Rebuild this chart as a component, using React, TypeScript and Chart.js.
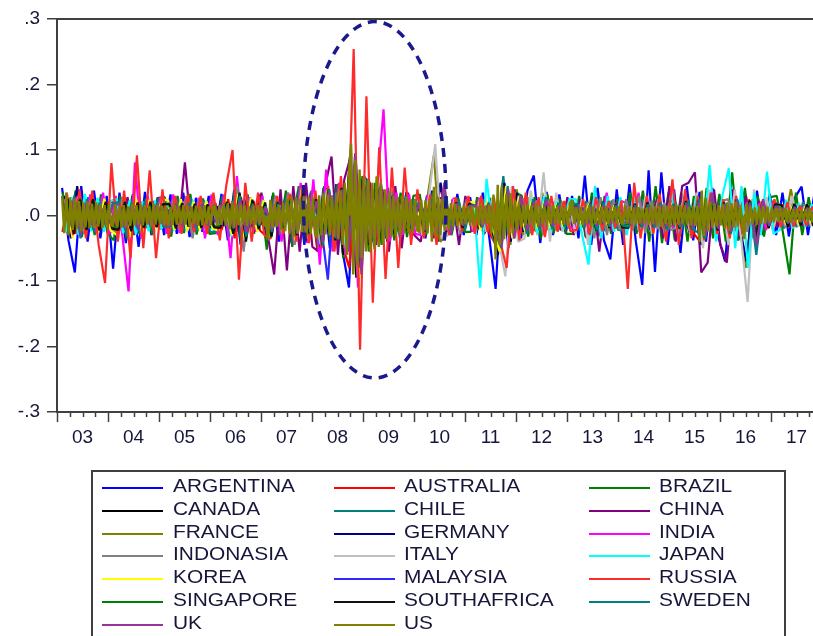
import React, { useEffect, useRef } from "react";
import { Chart, registerables } from "chart.js";

Chart.register(...registerables);

// ---------- labels / categories ----------
const COUNTRIES = [
  "ARGENTINA", "AUSTRALIA", "BRAZIL", "CANADA", "CHILE", "CHINA", "FRANCE",
  "GERMANY", "INDIA", "INDONASIA", "ITALY", "JAPAN", "KOREA", "MALAYSIA",
  "RUSSIA", "SINGAPORE", "SOUTHAFRICA", "SWEDEN", "UK", "US",
];
const YEAR_LABELS = ["03", "04", "05", "06", "07", "08", "09", "10", "11", "12", "13", "14", "15", "16", "17"];
const FIRST_YEAR = 2003;
const LAST_YEAR = 2018;
const FIRST_SAMPLE = 2003.1;      // first observation date (fractional year)
const OTHER_RATE = 8;             // observations per year kept for each country
const US_RATE = 24;               // observations per year kept for the US
const VALUE_UNIT = 0.001;         // values below are returns in thousandths
const Y_MIN = -0.3;
const Y_MAX = 0.3;
const Y_STEP = 0.1;

// ---------- series (returns, in thousandths; one row per year) ----------
const ARGENTINA = [
  42, -38, -87, 45, -40, 38, -35, 30,
  -81, 35, -42, 30, -48, 36, -30, 28,
  -30, 32, -28, 35, -33, 27, -25, 30,
  -28, 33, -38, 40, -45, 30, -26, 32,
  -35, 30, -40, 28, -42, 38, -45, 35,
  -45, 42, -50, 48, -55, -110, 95, -60,
  55, -48, 50, -40, 38, -35, 36, -30,
  32, -35, 38, -40, 30, -28, 33, -30,
  28, -30, 35, -33, -112, 45, -50, 40,
  -35, 38, 61, -42, 36, -30, 32, -28,
  30, -35, 61, -45, 42, -38, -67, 40,
  -45, 48, -40, -106, 69, -86, 66, -45,
  40, -57, 45, -38, 36, -40, 42, -35,
  -70, 40, -38, 35, -42, 38, -30, 33,
  -30, 35, -32, 28, 44, -30, 33, -28,
];
const AUSTRALIA = [
  -25, 22, -28, 24, -20, 23, -22, 19,
  21, -18, 22, -24, 19, -20, 21, -17,
  18, -21, 20, -18, 22, -19, 17, -18,
  19, -22, 25, -35, 28, -21, 22, -23,
  -32, 25, -27, 29, -38, 33, -30, 27,
  -55, 40, -35, 38, -48, -80, 55, -50,
  42, -38, 33, -30, 28, -26, 24, -27,
  24, -26, 28, -32, 23, -21, 20, -19,
  21, -23, 25, -27, -45, 35, -28, 24,
  -21, 20, -23, 22, -19, 18, -17, 19,
  17, -19, 20, -28, 21, -18, 17, -19,
  -18, 17, -19, 16, -17, 18, -20, 19,
  20, -23, 25, -27, -40, 28, -24, 22,
  -28, 24, -22, 26, -35, 22, -19, 20,
  -16, 17, -18, 16, -17, 15, -16, 14,
];
const BRAZIL = [
  35, -30, 38, -33, 28, -30, 32, -27,
  -38, 30, -35, 33, -28, 25, -30, 27,
  28, -32, 30, -27, 33, -29, 26, -28,
  -27, 30, -33, 40, -45, 32, -28, 30,
  -52, 35, -30, 38, -48, 45, -40, 38,
  -50, 45, -42, 48, -65, 78, -80, 60,
  -55, 50, -45, 42, -38, 35, -33, 30,
  32, -30, 35, -38, 28, -30, 27, -25,
  -25, 28, -30, 27, -60, 50, -40, 35,
  30, -32, 28, -35, 33, -27, 25, -28,
  -28, 30, -33, 35, -32, 30, -28, 25,
  -30, 35, -28, 38, -40, 45, -42, 35,
  -38, 35, -40, 30, -45, 42, -35, 33,
  -40, 66, -38, 42, -35, 30, -32, 28,
  30, -28, -90, 35, -30, 28, -25, 27,
];
const CANADA = [
  22, -25, 20, -18, 19, -21, 18, -17,
  -18, 17, -20, 19, -16, 18, -17, 16,
  16, -18, 17, -19, 18, -16, 17, -18,
  -17, 19, -21, 24, -26, 18, -19, 17,
  -32, 21, -20, 22, -27, 29, -28, 25,
  -33, 30, -28, 32, -60, 90, -95, 55,
  -45, 40, -36, 32, -28, 25, -23, 21,
  -22, 20, -24, 26, -19, 18, -17, 16,
  18, -17, 19, -20, -40, 32, -25, 21,
  -17, 16, -18, 15, -16, 17, -15, 14,
  15, -14, 16, -17, 14, -15, 16, -13,
  -14, 15, -13, 16, -14, 15, -20, 18,
  -21, 19, -18, 20, -26, 24, -19, 17,
  -24, 22, -19, 18, -21, 16, -15, 14,
  12, -13, 14, -12, 13, -11, 12, -13,
];
const CHILE = [
  30, -27, 32, -25, 28, -24, 27, -23,
  -26, 25, -32, 28, -24, 26, -23, 22,
  24, -26, 25, -23, 27, -24, 23, -25,
  -25, 27, -30, 36, -38, 28, -25, 24,
  -33, 25, -23, 27, -31, 35, -29, 26,
  -37, 32, -30, 34, -45, 60, -55, 40,
  -34, 36, -30, 28, -25, 23, -21, 25,
  -27, 30, 28, -29, 25, -23, 24, -22,
  19, -21, 24, -22, -36, 60, -32, 28,
  -26, 24, -23, 25, -22, 21, -23, 20,
  21, -23, 22, -27, 25, -24, 23, -22,
  -23, 22, -21, 24, -22, 21, -23, 22,
  21, -22, 24, -23, -28, 25, -22, 21,
  -25, 24, -22, 23, -27, 21, -20, 22,
  18, -20, 19, -18, 20, -17, 18, -19,
];
const CHINA = [
  -20, 22, -18, 25, -16, 20, -22, 18,
  25, -22, 28, -30, 20, -18, 22, -20,
  -18, 20, -22, 81, -25, 20, -18, 22,
  -20, 25, -28, 30, -32, 28, -25, 35,
  -30, -90, 40, -84, 45, -55, 50, -48,
  -55, 45, 90, -60, 55, 90, -65, 60,
  50, -45, 40, -55, 45, -50, 35, -30,
  -40, 30, -35, 28, -30, 25, -45, 30,
  -25, 22, -28, 20, -30, 25, -28, 22,
  -22, 25, -20, 30, -18, 20, -22, 28,
  -30, 25, -35, 28, -55, 30, -25, 22,
  -25, 22, -20, 18, -22, 25, -35, 45,
  -40, 45, 50, 66, -87, -72, 40, -45,
  -72, 40, -35, 30, -25, 22, -20, 18,
  -18, 15, -17, 14, -16, 13, -15, 12,
];
const FRANCE = [
  -25, 28, -22, 20, -18, 22, -17, 15,
  18, -19, 17, -16, 18, -15, 16, -17,
  -15, 16, -17, 14, -16, 15, -14, 16,
  -15, 17, -20, 22, -24, 16, -15, 17,
  -25, 18, -16, 20, -28, 30, -26, 22,
  -45, 40, -35, 38, -50, 100, -90, 60,
  -45, 50, -38, 35, -28, 30, -25, 22,
  -30, 28, 92, -40, -30, 25, -22, 20,
  18, -20, 22, -25, -55, 50, -45, 40,
  -30, 28, -25, 35, -22, 20, -18, 17,
  15, -17, 16, -20, 18, -15, 14, -13,
  -15, 14, -16, 15, -17, 18, -20, 15,
  -18, 20, -22, 25, -35, 28, -22, 20,
  -30, 25, -22, -80, 25, -20, 18, 15,
  13, -12, 40, -11, 10, -12, 9, -10,
];
const GERMANY = [
  30, -35, 45, -28, 25, -22, 20, -18,
  -22, 20, -19, 18, -21, 17, -16, 18,
  16, -17, 15, -18, 16, -15, 17, -14,
  14, -16, 18, -25, 22, -15, 14, -13,
  -28, 20, -18, 22, -25, 24, -22, 20,
  -48, 42, -30, 35, -45, 85, -75, 55,
  -45, 48, -35, 30, -25, 28, -22, 20,
  -22, 25, -20, 50, -25, 18, -16, 15,
  18, -20, 22, -18, -60, 50, -40, 35,
  -25, 22, -20, 28, -18, 17, -15, 14,
  13, -15, 14, -18, 16, -13, 12, -11,
  -14, 13, -15, 14, -16, 17, -18, 15,
  -20, 22, -25, 24, -45, 30, -22, 20,
  -28, 25, -22, -70, 22, -18, 16, 14,
  12, -11, 13, -10, 11, -12, 10, -9,
];
const INDIA = [
  25, -27, 30, -25, 32, -27, 35, -29,
  30, -28, -116, 81, -35, 30, -25, 28,
  -28, 32, -27, 29, -32, 27, -35, 32,
  -30, 32, -65, 60, -35, 28, -25, 30,
  -35, 30, -40, 35, -45, 50, -42, 55,
  -75, 70, -55, 50, -60, 65, -110, 60,
  -50, 45, 162, -40, 35, -30, 32, -28,
  -30, 33, -27, 25, -23, 27, -25, 22,
  -25, 27, -23, 22, -30, 25, -23, 21,
  22, -20, 23, -21, 19, -18, 20, -17,
  -20, 19, -23, 25, -30, 35, -24, 22,
  20, -19, 35, -18, 17, -19, 18, -16,
  -19, 21, -23, 20, -30, 24, -20, 19,
  -24, 27, -22, 20, -26, 19, -22, 20,
  16, -15, 17, -14, 16, -15, 14, -13,
];
const INDONASIA = [
  25, -22, 20, -28, 24, -18, 22, -20,
  -25, 28, -22, 20, -26, 18, -20, 22,
  -20, 24, -22, 28, -35, 25, -20, 22,
  -22, 25, -30, 45, -55, 28, -22, 25,
  -38, 30, -28, 35, -45, 40, -35, 30,
  -40, 35, -38, 40, -50, 75, -100, 45,
  -38, 40, -30, 35, -25, 28, -22, 20,
  -25, 22, -30, 25, -20, 18, -28, 25,
  -22, 25, -20, 22, -35, 28, -25, 22,
  25, -27, 23, -30, 25, -23, 21, -20,
  18, -16, 20, -35, 28, -30, 25, -22,
  25, -23, 30, -27, 23, -21, 20, -22,
  -18, 20, -22, 25, -40, 30, -25, 22,
  25, -23, 21, -25, 23, -20, 19, -21,
  17, -19, 18, -16, 17, -15, 16, -17,
];
const ITALY = [
  22, -25, 28, -20, 18, -16, 15, -17,
  -20, 19, -18, 17, -19, 16, -17, 18,
  17, -16, 18, -17, 15, -16, 17, -15,
  -12, 14, -16, 18, -20, 13, -12, 14,
  -22, 17, -15, 18, -24, 26, -22, 20,
  -42, 38, -32, 35, -48, 90, -85, 50,
  -45, 55, -35, 32, -28, 30, -25, 22,
  -30, 28, 109, -35, -30, 25, -22, 20,
  -20, 22, -25, 28, -40, -93, 45, -40,
  -35, 38, -30, 66, -40, 35, -25, 22,
  -28, 25, -45, 30, -25, 22, -20, 18,
  -22, 20, -25, 30, -28, 25, -22, 20,
  -25, 30, -28, 35, -50, 40, -28, 25,
  -45, 40, -35, -132, 40, -30, 28, -22,
  18, -15, 30, -17, 14, -16, 13, -12,
];
const JAPAN = [
  -25, 27, -30, 33, -24, 27, -25, 22,
  25, -27, 23, -29, 22, -24, 23, -21,
  22, -23, 21, -24, 23, -20, 22, -21,
  -22, 24, -32, 28, -27, 22, -21, 23,
  -35, 20, -18, 22, -28, 30, -25, 22,
  -45, 40, -35, 38, -50, 70, -70, 55,
  -40, 35, -30, 38, -25, 22, -20, 25,
  -22, 20, -30, 25, -20, 18, -16, 15,
  18, -110, 56, -22, -35, 25, -20, 18,
  -22, 25, -27, 30, -23, 21, -20, 25,
  25, -30, -75, 45, -35, 30, -25, 28,
  -30, 28, -25, 22, -20, 25, -30, 35,
  -28, 25, -22, 30, -35, 77, -40, 30,
  72, -50, 45, -80, 35, -30, 67, -28,
  -22, 24, -20, 19, -18, 17, -19, 16,
];
const KOREA = [
  32, -35, 28, -26, 24, -28, 26, -23,
  -30, 27, -33, 25, -28, 24, -22, 25,
  23, -22, 25, -24, 21, -23, 22, -20,
  -23, 25, -30, 33, -36, 27, -25, 23,
  -32, 25, -24, 27, -38, 42, -35, 32,
  -40, 38, -30, 35, -45, 60, -95, 50,
  -35, 40, -30, 28, -22, 25, -20, 18,
  -25, 23, -30, 27, -22, 20, -19, 21,
  20, -22, 21, -23, -55, 45, -35, 30,
  -24, 22, -20, 21, -19, 18, -17, 16,
  17, -16, 18, -19, 17, -16, 15, -14,
  -15, 16, -14, 17, -15, 16, -17, 15,
  -16, 18, -17, 16, -24, 19, -17, 16,
  -18, 17, -16, 19, -30, 16, -15, 14,
  14, -13, 15, -14, 13, -12, 14, -13,
];
const MALAYSIA = [
  10, -12, 11, -9, 10, -8, 9, -10,
  -11, 10, -13, 12, -9, 10, -8, 9,
  8, -9, 10, -8, 9, -10, 8, -7,
  -8, 9, -12, 15, -18, 10, -9, 8,
  -25, 12, -10, 14, -20, 18, -15, 13,
  -20, -98, 35, -18, 15, -30, 25, -22,
  15, -17, 14, -12, 13, -10, 11, -9,
  10, -9, 11, -12, 8, -9, 10, -8,
  -9, 10, -8, 9, -25, 15, -10, 9,
  -8, 9, -10, 8, -7, 9, -8, 10,
  -9, 12, -11, 10, -15, 12, -10, 9,
  -8, 9, -10, 8, -9, 10, -12, 11,
  -12, 10, -11, 13, -15, 14, -12, 10,
  -10, 12, -9, 11, -13, 10, -9, 8,
  7, -8, 9, -7, 8, -6, 7, -8,
];
const RUSSIA = [
  35, -30, 40, -35, 38, -45, -103, 80,
  -40, 38, -65, 92, -50, 69, -65, 40,
  -35, 30, -28, 32, -25, 30, -28, 35,
  -38, 45, 100, -98, 50, -40, 35, -30,
  -35, 30, -28, 33, -40, 45, -42, 38,
  -50, 45, -55, 60, -60, 254, -205, 182,
  -133, 104, -97, 73, -80, 73, -45, 40,
  -35, 32, -45, 38, -30, 28, -25, 30,
  -28, 30, -25, 28, -40, -80, 45, -38,
  35, -30, 28, -33, 30, -25, 22, -24,
  -22, 25, -30, 28, -24, 22, -20, 23,
  -112, 50, -35, 30, -28, 33, -40, 55,
  -45, 40, -35, 30, -38, 35, -28, 25,
  -35, 30, -28, 25, -40, 22, -20, 25,
  -18, 20, -17, 15, -16, 14, -15, 13,
];
const SINGAPORE = [
  21, -23, 26, -21, 19, -20, 18, -17,
  -19, 18, -21, 17, -18, 16, -17, 18,
  16, -17, 18, -16, 17, -15, 16, -17,
  -16, 18, -24, 26, -28, 18, -17, 16,
  -33, 21, -20, 24, -30, 32, -28, 25,
  -37, 32, -30, 34, -42, 75, -70, 45,
  -36, 39, -31, 29, -24, 22, -20, 18,
  -20, 18, -23, 21, -17, 16, -15, 14,
  16, -18, 17, -19, -40, 32, -23, 21,
  -18, 16, -17, 15, -14, 16, -15, 13,
  14, -13, 15, -24, 17, -16, 14, -15,
  -13, 14, -12, 13, -14, 15, -16, 14,
  -15, 17, -16, 18, -35, 24, -19, 16,
  -22, 19, -16, 17, -24, 15, -14, 13,
  12, -13, 14, -12, 13, -11, 12, -13,
];
const SOUTHAFRICA = [
  26, -28, 24, -22, 25, -23, 21, -20,
  -22, 21, -24, 20, -19, 21, -18, 17,
  18, -20, 19, -17, 18, -19, 17, -18,
  -19, 21, -28, 35, -40, 24, -21, 20,
  -32, 20, -18, 22, -30, 35, -28, 25,
  -45, 40, -38, 42, -50, 70, -80, 55,
  -40, 42, -35, 30, -25, 22, -20, 18,
  -25, 23, -27, 25, -21, 20, -19, 18,
  14, -16, 15, -17, -38, 32, -22, 20,
  -23, 21, -20, 22, -18, 19, -17, 16,
  17, -19, 18, -23, 21, -19, 17, -18,
  -19, 18, -17, 20, -18, 19, -20, 17,
  -20, 22, -21, 23, -32, 25, -23, 20,
  -27, 25, -22, 23, -32, 20, -19, 17,
  16, -17, 18, -15, 17, -16, 15, -14,
];
const SWEDEN = [
  -28, 30, -35, 25, -22, 20, -18, 17,
  21, -23, 20, -22, 19, -18, 20, -17,
  -17, 18, -16, 19, -18, 17, -15, 16,
  -14, 16, -20, 30, -32, 18, -15, 14,
  -25, 18, -16, 20, -28, 30, -25, 22,
  -45, 40, -35, 40, -50, 80, -75, 55,
  -42, 45, -35, 32, -28, 30, -22, 20,
  -22, 25, -28, 35, -20, 18, -16, 15,
  16, -18, 20, -22, -50, 45, -35, 30,
  -28, 25, -23, 28, -21, 19, -18, 17,
  17, -19, 18, -22, 20, -17, 16, -15,
  -17, 16, -18, 17, -19, 20, -22, 18,
  -18, 20, -22, 25, -35, 28, -20, 18,
  -28, 25, -22, 20, -60, 22, -16, 14,
  11, -12, 13, -10, 12, -11, 10, -9,
];
const UK = [
  -25, 28, -30, 22, -18, 17, -15, 14,
  18, -19, 17, -20, 16, -17, 18, -15,
  -15, 16, -17, 15, -16, 17, -14, 15,
  -12, 14, -18, 22, -25, 15, -13, 12,
  -22, 15, -14, 18, -28, 30, -25, 22,
  -40, 35, -32, 38, -55, 90, -90, 50,
  -40, 45, -32, 30, -25, 28, -20, 18,
  -22, 20, -25, 50, -30, 18, -15, 14,
  15, -17, 18, -20, -48, 40, -35, 30,
  -22, 20, -18, 24, -16, 15, -13, 12,
  12, -14, 13, -16, 15, -12, 11, -10,
  -11, 12, -13, 12, -14, 15, -16, 13,
  -15, 17, -18, 20, -30, 35, -20, 16,
  -25, 22, -20, 18, -45, 25, -15, 13,
  10, -11, 12, -9, 11, -10, 9, -8,
];
const US = [
  30, -27, 35, -30, 24, -22, 26, -21, 22, -24, 20, -18, 21, -19, 18, -19, 20, -17, 17, -19, 16, -18, 17, -15,
  -16, 17, -18, 15, -19, 16, -17, 14, -16, 18, -15, 16, -14, 17, -15, 16, -14, 15, -17, 18, -14, 16, -13, 15,
  -15, 14, -16, 13, -15, 16, -14, 15, -13, 16, -14, 15, -17, 14, -13, 15, -16, 14, -15, 16, -13, 14, -15, 13,
  14, -15, 16, -14, 17, -16, 19, -21, 22, -18, 16, -15, 17, -14, 15, -16, 14, -13, 15, -14, 16, -13, 14, -15,
  -16, -35, 24, -19, 18, -17, 16, -22, 20, -24, 26, -28, 30, -32, 28, -27, 26, -25, 28, -30, 29, -28, 27, -28,
  -33, 31, -30, 34, -29, 32, -30, 31, -33, 35, -36, 38, -45, 50, -60, 65, 110, -90, 85, -75, 70, -65, 60, -55,
  55, -56, 50, -52, 60, -48, 50, -44, 40, -36, 34, -32, 30, -31, 28, -29, 30, -27, 28, -26, 25, -27, 24, -23,
  -25, 24, -26, 23, -27, 25, -40, 44, -32, 28, -30, 25, -23, 27, -21, 19, -17, 18, -16, 15, -14, 16, -13, 14,
  -15, 14, -16, 13, -15, 17, -14, 15, -13, 16, -27, 32, -67, 47, -45, 46, -36, 32, -30, 34, -27, 24, -22, 20,
  -18, 16, -15, 17, -14, 15, -19, 18, -16, 15, -14, 13, -15, 14, -13, 15, -12, 14, -13, 15, -14, 13, -15, 19,
  24, -13, 12, -14, 13, -15, 12, -13, 15, -17, 14, -13, 12, -14, 13, -12, 14, -13, 12, -11, 13, -12, 14, -11,
  -13, 15, -12, 14, -13, 12, -14, 13, -12, 11, -13, 12, -14, 15, -13, 14, -16, 15, -17, 14, -13, 15, -18, 16,
  -15, 17, -14, 16, -13, 15, -14, 13, -15, 14, -16, 15, -40, 38, -32, 27, -24, 21, -19, 18, -17, 16, -15, 17,
  -21, 20, -23, 19, -18, 21, -17, 16, -15, -36, 18, -15, 14, -13, 12, -14, 15, -13, 14, -12, 13, -11, 12, -10,
  11, -10, 12, -9, 11, -10, 9, -11, 10, -9, 11, -10, 9, -8, 10, -9, 11, -10, 9, -8, 10, -9, 8, -9,
];

const SERIES = [
  ARGENTINA, AUSTRALIA, BRAZIL, CANADA, CHILE, CHINA, FRANCE, GERMANY, INDIA, INDONASIA,
  ITALY, JAPAN, KOREA, MALAYSIA, RUSSIA, SINGAPORE, SOUTHAFRICA, SWEDEN, UK, US,
];

// ---------- styles ----------
const COLORS = [
  "#0000ff", "#ff0000", "#008000", "#000000", "#008080", "#800080", "#808000",
  "#000080", "#ff00ff", "#808080", "#c0c0c0", "#00ffff", "#ffff00", "#2b2bff",
  "#ff2b2b", "#008000", "#111111", "#008080", "#993399", "#808000",
];
const AXIS_COLOR = "#404040";
const TEXT_COLOR = "#16163a";
const FONT_FAMILY = "'Liberation Sans', Arial, sans-serif";
const LINE_WIDTH = 2.2;
const US_LINE_WIDTH = 2.4;

// dashed ellipse annotation, in data units
const ELLIPSE_CENTER_YEAR = 2009.23;
const ELLIPSE_CENTER_VALUE = 0.024;
const ELLIPSE_HALF_YEARS = 1.4;
const ELLIPSE_HALF_VALUE = 0.272;

// legend layout (3 columns)
const LEGEND_LINE_X = [102, 334, 589];
const LEGEND_TEXT_X = [173, 404, 659];

const framePlugin = {
  id: "frameAndTicks",
  afterDraw(chart: any) {
    const { ctx, chartArea: a, scales } = chart;
    const xs = scales.x;
    ctx.save();
    ctx.strokeStyle = AXIS_COLOR;
    ctx.lineWidth = 2;
    ctx.beginPath();
    ctx.moveTo(a.left, a.top);
    ctx.lineTo(a.right, a.top);
    ctx.lineTo(a.right, a.bottom);
    ctx.stroke();
    ctx.lineWidth = 1.5;
    for (let q = FIRST_YEAR * 4; q <= LAST_YEAR * 4; q++) {
      const px = Math.round(xs.getPixelForValue(q / 4)) + 0.5;
      const len = q % 4 === 0 ? 10 : 5;
      ctx.beginPath();
      ctx.moveTo(px, a.bottom);
      ctx.lineTo(px, a.bottom + len);
      ctx.stroke();
    }
    ctx.restore();
  },
};

const ellipsePlugin = {
  id: "crisisEllipse",
  afterDatasetsDraw(chart: any) {
    const { ctx, scales } = chart;
    const xs = scales.x;
    const ys = scales.y;
    const cx = xs.getPixelForValue(ELLIPSE_CENTER_YEAR);
    const cy = ys.getPixelForValue(ELLIPSE_CENTER_VALUE);
    const rx = Math.abs(xs.getPixelForValue(ELLIPSE_CENTER_YEAR + ELLIPSE_HALF_YEARS) - cx);
    const ry = Math.abs(ys.getPixelForValue(ELLIPSE_CENTER_VALUE + ELLIPSE_HALF_VALUE) - cy);
    ctx.save();
    ctx.strokeStyle = "#1a1a8c";
    ctx.lineWidth = 3.5;
    ctx.setLineDash([9, 7]);
    ctx.beginPath();
    ctx.ellipse(cx, cy, rx, ry, 0, 0, Math.PI * 2);
    ctx.stroke();
    ctx.restore();
  },
};

export default function App() {
  const canvasRef = useRef<HTMLCanvasElement | null>(null);

  useEffect(() => {
    if (!canvasRef.current) return;
    const last = SERIES.length - 1;
    const datasets = SERIES.map((values, i) => {
      const isUS = i === last;
      const rate = isUS ? US_RATE : OTHER_RATE;
      const phase = isUS ? 0 : i / last;
      return {
        label: COUNTRIES[i],
        data: values.map((v, k) => ({ x: FIRST_SAMPLE + (k + phase) / rate, y: v * VALUE_UNIT })),
        borderColor: COLORS[i],
        backgroundColor: COLORS[i],
        borderWidth: isUS ? US_LINE_WIDTH : LINE_WIDTH,
        borderJoinStyle: "bevel",
        pointRadius: 0,
        tension: 0,
        fill: isUS ? "origin" : false,
        order: last - i,
      };
    });

    const chart = new Chart(canvasRef.current, {
      type: "line",
      data: { datasets },
      plugins: [framePlugin, ellipsePlugin],
      options: {
        animation: false,
        responsive: false,
        parsing: false,
        normalized: true,
        events: [],
        layout: { padding: { left: 0, top: 19, right: 8, bottom: 184 } },
        plugins: {
          legend: { display: false },
          tooltip: { enabled: false },
          filler: { drawTime: "beforeDatasetDraw", propagate: false },
        },
        scales: {
          x: {
            type: "linear",
            min: FIRST_YEAR,
            max: LAST_YEAR,
            afterBuildTicks: (scale: any) => {
              scale.ticks = YEAR_LABELS.map((_, i) => ({ value: FIRST_YEAR + i + 0.5 }));
            },
            afterFit: (scale: any) => {
              scale.height = 40;
            },
            grid: { display: false, drawTicks: false },
            border: { display: true, color: AXIS_COLOR, width: 2 },
            ticks: {
              autoSkip: false,
              maxRotation: 0,
              padding: 14,
              color: TEXT_COLOR,
              font: { family: FONT_FAMILY, size: 19 },
              callback: (_v: any, i: number) => YEAR_LABELS[i],
            },
          },
          y: {
            type: "linear",
            min: Y_MIN,
            max: Y_MAX,
            afterFit: (scale: any) => {
              scale.width = 57;
            },
            grid: {
              display: true,
              drawOnChartArea: false,
              drawTicks: true,
              tickLength: 10,
              color: AXIS_COLOR,
              lineWidth: 1.5,
            },
            border: { display: true, color: AXIS_COLOR, width: 2 },
            ticks: {
              stepSize: Y_STEP,
              padding: 7,
              color: TEXT_COLOR,
              font: { family: FONT_FAMILY, size: 19 },
              callback: (v: any) => Number(v).toFixed(1).replace("0.", "."),
            },
          },
        },
      },
    } as any);
    return () => chart.destroy();
  }, []);

  return (
    <div
      style={{
        position: "fixed",
        left: 0,
        top: 0,
        width: 813,
        height: 636,
        overflow: "hidden",
        background: "#ffffff",
      }}
    >
      <canvas ref={canvasRef} width={830} height={636} style={{ position: "absolute", left: 0, top: 0 }} />
      <div
        style={{
          position: "absolute",
          left: 91,
          top: 470,
          width: 695,
          height: 220,
          border: `2px solid ${AXIS_COLOR}`,
          boxSizing: "border-box",
        }}
      >
        {COUNTRIES.map((name, n) => {
          const row = Math.floor(n / 3);
          const col = n % 3;
          const centerY = 15.7 + row * 22.93;
          return (
            <React.Fragment key={name}>
              <div
                style={{
                  position: "absolute",
                  left: LEGEND_LINE_X[col] - 93,
                  top: centerY - 1,
                  width: 61,
                  height: 2,
                  background: COLORS[n],
                }}
              />
              <div
                style={{
                  position: "absolute",
                  left: LEGEND_TEXT_X[col] - 93,
                  top: centerY - 13,
                  height: 22,
                  lineHeight: "22px",
                  fontFamily: FONT_FAMILY,
                  fontSize: 19,
                  color: TEXT_COLOR,
                  whiteSpace: "nowrap",
                  transform: "scaleX(1.1)",
                  transformOrigin: "left center",
                }}
              >
                {name}
              </div>
            </React.Fragment>
          );
        })}
      </div>
    </div>
  );
}
